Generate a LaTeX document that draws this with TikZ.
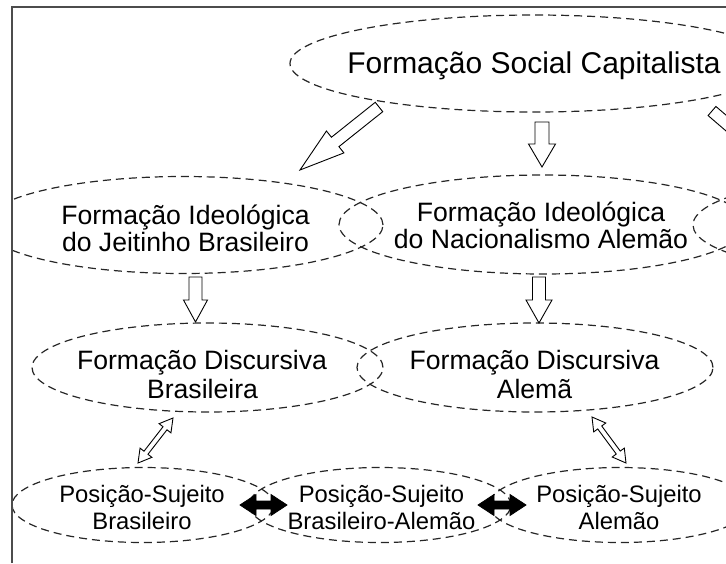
\documentclass[tikz,border=0pt]{standalone}
\usepackage{fontspec}
\setmainfont{Liberation Sans}
\usetikzlibrary{calc,shapes.geometric}
\tikzset{
  ell/.style={draw, ellipse, inner sep=0pt, line width=1.2pt, dash pattern=on 8pt off 5pt, black!85},
  hollow/.style={draw, fill=white, line width=0.9pt, line join=miter},
  solidarr/.style={draw, fill=black, line width=0.8pt, line join=miter},
  frameline/.style={draw, line width=1.8pt, black!70},
  tA/.style={font=\fontsize{30}{30}\selectfont, inner sep=0pt, anchor=base},
  tB/.style={font=\fontsize{26.6}{27}\selectfont, inner sep=0pt, anchor=base},
  tC/.style={font=\fontsize{23.8}{27}\selectfont, inner sep=0pt, anchor=base}
}
% #1 style, #2 from, #3 to, #4 shaft half width, #5 head half width, #6 head length
\newcommand\fsarrow[6]{%
  \coordinate (ah) at ($(#3)!#6!(#2)$);
  \draw[#1] ($(#2)!#4!90:(#3)$) -- ($(ah)!#4!-90:(#2)$) -- ($(ah)!#5!-90:(#2)$) -- (#3)
    -- ($(ah)!#5!90:(#2)$) -- ($(ah)!#4!90:(#2)$) -- ($(#2)!#4!-90:(#3)$) -- cycle;
}
\newcommand\fdarrow[6]{%
  \coordinate (ah1) at ($(#2)!#6!(#3)$);
  \coordinate (ah2) at ($(#3)!#6!(#2)$);
  \draw[#1] (#2) -- ($(ah1)!#5!90:(#3)$) -- ($(ah1)!#4!90:(#3)$) -- ($(ah2)!#4!-90:(#2)$)
    -- ($(ah2)!#5!-90:(#2)$) -- (#3) -- ($(ah2)!#5!90:(#2)$) -- ($(ah2)!#4!90:(#2)$)
    -- ($(ah1)!#4!-90:(#3)$) -- ($(ah1)!#5!-90:(#3)$) -- cycle;
}
\begin{document}
\begin{tikzpicture}[x=1pt,y=-1pt]
\useasboundingbox (0,0) rectangle (726,563);
\begin{scope}
\clip (12,7) rectangle (726,563);
% ellipses
\node[ell, minimum width=488pt, minimum height=97pt] (fsc) at (534,63.5) {};
\node[ell, minimum width=400pt, minimum height=97pt] (fij) at (183,225) {};
\node[ell, minimum width=408pt, minimum height=99pt] (fin) at (543,224.5) {};
\node[ell, minimum width=400pt, minimum height=98pt] (fi3) at (893,225) {};
\node[ell, minimum width=351pt, minimum height=89pt] (fdb) at (207.5,367.5) {};
\node[ell, minimum width=356pt, minimum height=89pt] (fda) at (535,367.5) {};
\node[ell, minimum width=262pt, minimum height=75pt] (psb) at (143,505) {};
\node[ell, minimum width=262pt, minimum height=75pt] (psba) at (380,505) {};
\node[ell, minimum width=262pt, minimum height=75pt] (psa) at (620,505) {};
% texts
\node[tA] (t1) at (534,73) {Formação Social Capitalista};
\node[tB] (t2a) at (185.5,224) {Formação Ideológica};
\node[tB] (t2b) at (185.5,251) {do Jeitinho Brasileiro};
\node[tB] (t3a) at (541,221.5) {Formação Ideológica};
\node[tB] (t3b) at (541,248.5) {do Nacionalismo Alemão};
\node[tB] (t4a) at (202,369.5) {Formação Discursiva};
\node[tB] (t4b) at (202.5,398.5) {Brasileira};
\node[tB] (t5a) at (534.5,369.5) {Formação Discursiva};
\node[tB] (t5b) at (534.5,398.5) {Alemã};
\node[tC] (t6a) at (142,502) {Posição-Sujeito};
\node[tC] (t6b) at (142,529) {Brasileiro};
\node[tC] (t7a) at (381.5,502) {Posição-Sujeito};
\node[tC] (t7b) at (381.5,529) {Brasileiro-Alemão};
\node[tC] (t8a) at (619,502) {Posição-Sujeito};
\node[tC] (t8b) at (619,529) {Alemão};
% arrow end points
\coordinate (a1s) at (379,107); \coordinate (a1e) at (300,170);
\coordinate (a2s) at (542,122); \coordinate (a2e) at (542,167);
\coordinate (a3s) at (712,111); \coordinate (a3e) at (790,178);
\coordinate (a4s) at (195.5,277); \coordinate (a4e) at (195.5,322);
\coordinate (a5s) at (539,277); \coordinate (a5e) at (539,323);
\coordinate (a6s) at (173,418); \coordinate (a6e) at (138,463);
\coordinate (a7s) at (592,417); \coordinate (a7e) at (626,463);
\coordinate (a8s) at (240,505); \coordinate (a8e) at (287,505);
\coordinate (a9s) at (478,505); \coordinate (a9e) at (526,505);
% arrows
\fsarrow{hollow}{a1s}{a1e}{6pt}{14pt}{45pt}
\fsarrow{hollow}{a2s}{a2e}{7pt}{13.5pt}{23pt}
\fsarrow{hollow}{a3s}{a3e}{6pt}{14pt}{45pt}
\fsarrow{hollow}{a4s}{a4e}{6.5pt}{12pt}{22pt}
\fsarrow{hollow}{a5s}{a5e}{6.5pt}{13pt}{23pt}
\fdarrow{hollow}{a6s}{a6e}{2.5pt}{7.5pt}{13pt}
\fdarrow{hollow}{a7s}{a7e}{2.5pt}{7.5pt}{13pt}
\fdarrow{solidarr}{a8s}{a8e}{4pt}{10.5pt}{16pt}
\fdarrow{solidarr}{a9s}{a9e}{4pt}{10.5pt}{16pt}
\end{scope}
\draw[frameline] (12,563) -- (12,7) -- (726,7);
\end{tikzpicture}
\end{document}
